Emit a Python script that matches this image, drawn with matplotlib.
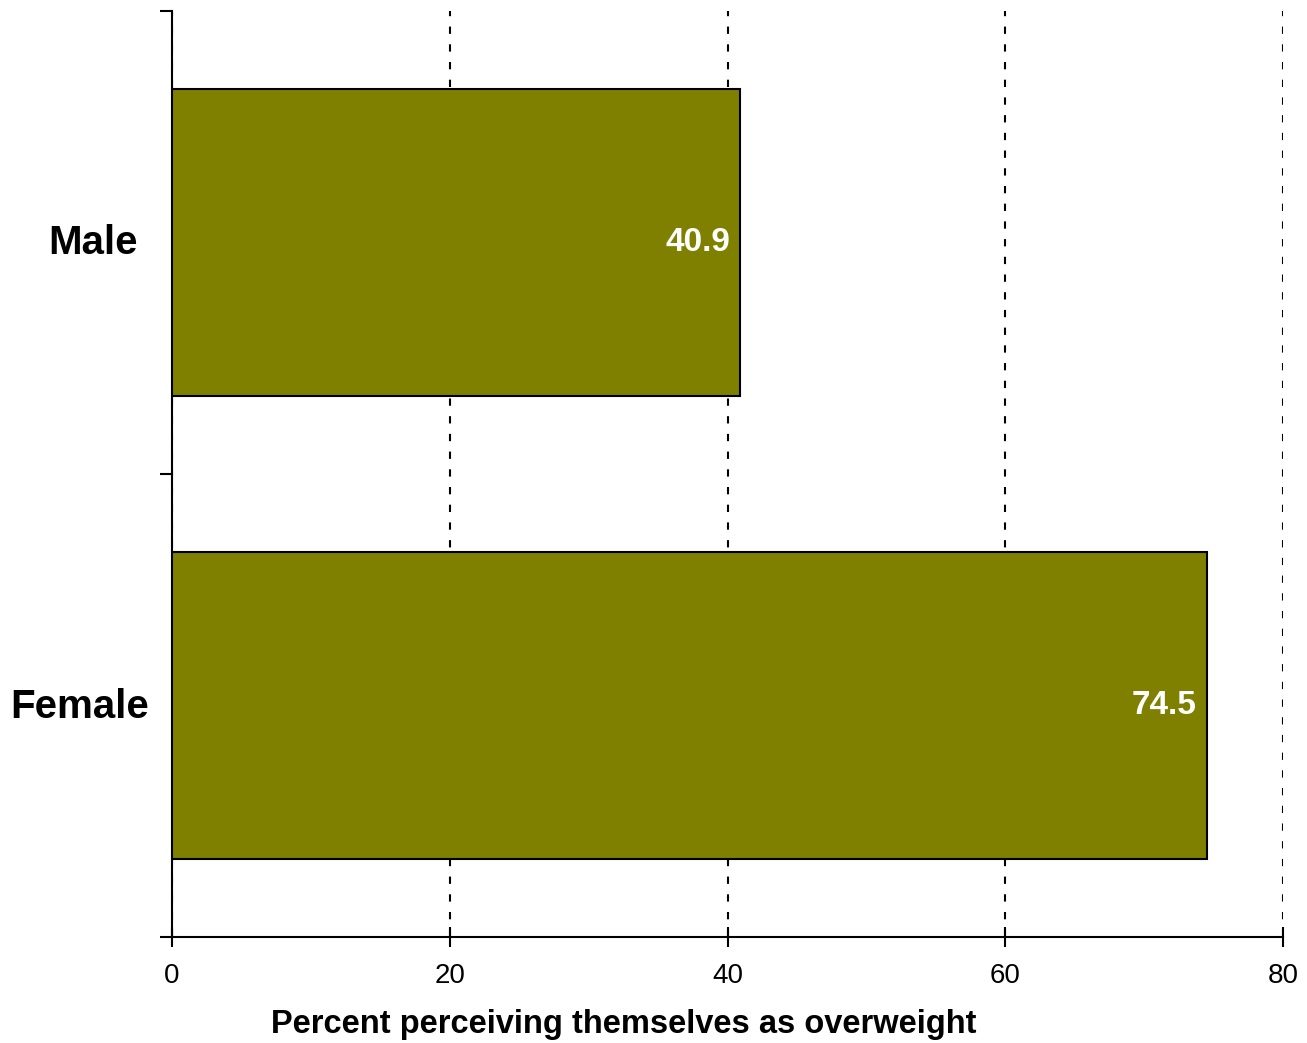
import matplotlib
matplotlib.use("Agg")
import matplotlib.pyplot as plt
import matplotlib.transforms as mtransforms

plt.rcParams['font.family'] = ['Liberation Sans', 'DejaVu Sans']

# Data
categories = ["Male", "Female"]
values = [40.9, 74.5]
x_ticks = [0, 20, 40, 60, 80]
x_label = "Percent perceiving themselves as overweight"

bar_color = "#808000"

fig = plt.figure(figsize=(13.07, 10.43), dpi=100)
ax = fig.add_axes([172 / 1307, 1 - 937 / 1043, (1283 - 172) / 1307, (937 - 11) / 1043])

ypos = list(range(len(categories)))
ax.barh(ypos, values, height=0.665, color=bar_color, edgecolor="black",
        linewidth=1.5, zorder=3)

for y, v in zip(ypos, values):
    ax.annotate(f"{v:.1f}", xy=(v, y), xytext=(-7, 0), textcoords="offset points",
                ha="right", va="center", color="white", fontsize=24,
                fontweight="bold", zorder=4)

ax.set_xlim(0, 80)
ax.set_ylim(len(categories) - 0.5, -0.5)

# Category boundary ticks (unlabelled) and labels at bar centres
ax.set_yticks([i - 0.5 for i in range(len(categories) + 1)])
ax.set_yticklabels([])
ax.set_yticks(ypos, minor=True)
ax.set_yticklabels(categories, minor=True, fontsize=29, fontweight="bold")
ax.tick_params(axis="y", which="major", direction="out", length=8.6, width=1.5)
ax.tick_params(axis="y", which="minor", length=0, pad=16.5)
label_shifts = [(-11, 3), (0, 3)]
for lab, (dx, dy) in zip(ax.get_yticklabels(minor=True), label_shifts):
    lab.set_ha("right")
    lab.set_transform(lab.get_transform() +
                      mtransforms.ScaledTranslation(dx / 100, dy / 100, fig.dpi_scale_trans))

ax.set_xticks(x_ticks)
ax.set_xticklabels([str(t) for t in x_ticks], fontsize=20)
ax.tick_params(axis="x", direction="inout", length=15, width=1.5, pad=11.5)

ax.xaxis.grid(True, color="black", linewidth=1.5, linestyle=(0, (3.5, 5)), zorder=1)
ax.set_axisbelow(True)

for side in ("top", "right"):
    ax.spines[side].set_visible(False)
for side in ("left", "bottom"):
    ax.spines[side].set_linewidth(1.5)

ax.set_xlabel(x_label, fontsize=23.5, fontweight="bold", va="center")
ax.xaxis.set_label_coords((624 - 172) / (1283 - 172), -(1024 - 937) / (937 - 11))

fig.savefig("out.png", dpi=100)
